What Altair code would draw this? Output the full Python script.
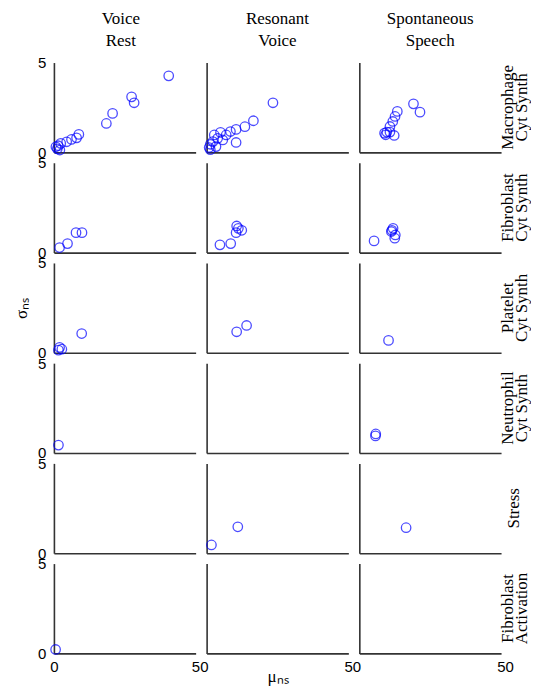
import altair as alt
import pandas as pd

SERIF = "Liberation Serif"
SANS = "Liberation Sans"

conditions = [["Voice", "Rest"], ["Resonant", "Voice"], ["Spontaneous", "Speech"]]
stimuli = [["Macrophage", "Cyt Synth"], ["Fibroblast", "Cyt Synth"], ["Platelet", "Cyt Synth"],
           ["Neutrophil", "Cyt Synth"], ["Stress"], ["Fibroblast", "Activation"]]

x_ticks = [0, 50]
y_ticks = [0, 5]

# Macrophage cytokine synthesis
mac_rest_mu = [40.5, 27.4, 28.3, 20.7, 18.5, 8.8, 8.0, 6.2, 4.5, 2.4, 1.5, 0.7, 2.1, 1.2]
mac_rest_sigma = [4.26, 3.09, 2.76, 2.17, 1.61, 1.0, 0.81, 0.72, 0.59, 0.5, 0.37, 0.31, 0.13, 0.2]
mac_res_mu = [23.4, 16.5, 13.5, 10.4, 8.4, 10.4, 6.9, 4.9, 3.9, 2.7, 2.2, 1.3, 3.3, 0.9, 1.3, 5.7]
mac_res_sigma = [2.76, 1.76, 1.43, 1.28, 1.16, 0.55, 0.97, 1.11, 0.78, 0.97, 0.6, 0.45, 0.32, 0.27, 0.15, 0.69]
mac_spon_mu = [19.1, 21.4, 13.4, 12.6, 11.8, 10.8, 9.7, 8.9, 9.3, 12.3, 10.8]
mac_spon_sigma = [2.7, 2.24, 2.28, 2.0, 1.72, 1.44, 1.13, 1.07, 0.98, 0.94, 1.13]

# Fibroblast cytokine synthesis
fib_rest_mu = [9.9, 7.8, 4.8, 2.0]
fib_rest_sigma = [1.11, 1.11, 0.5, 0.28]
fib_res_mu = [10.6, 12.4, 10.4, 11.2, 8.5, 4.7]
fib_res_sigma = [1.48, 1.24, 1.11, 1.35, 0.5, 0.43]
fib_spon_mu = [5.2, 11.9, 11.3, 12.7, 12.5, 11.5]
fib_spon_sigma = [0.65, 1.35, 1.17, 0.98, 0.8, 1.24]

# Platelet cytokine synthesis
pla_rest_mu = [9.8, 2.0, 2.8, 1.6]
pla_rest_sigma = [1.07, 0.3, 0.2, 0.15]
pla_res_mu = [10.6, 14.1]
pla_res_sigma = [1.17, 1.52]
pla_spon_mu = [10.3]
pla_spon_sigma = [0.69]

# Neutrophil cytokine synthesis
neu_rest_mu = [1.6]
neu_rest_sigma = [0.44]
neu_res_mu = []
neu_res_sigma = []
neu_spon_mu = [5.8, 5.7]
neu_spon_sigma = [1.06, 0.95]

# Stress
str_rest_mu = []
str_rest_sigma = []
str_res_mu = [11.0, 1.7]
str_res_sigma = [1.47, 0.46]
str_spon_mu = [16.5]
str_spon_sigma = [1.42]

# Fibroblast activation
act_rest_mu = [0.6]
act_rest_sigma = [0.22]
act_res_mu = []
act_res_sigma = []
act_spon_mu = []
act_spon_sigma = []

grid = [
    [(mac_rest_mu, mac_rest_sigma), (mac_res_mu, mac_res_sigma), (mac_spon_mu, mac_spon_sigma)],
    [(fib_rest_mu, fib_rest_sigma), (fib_res_mu, fib_res_sigma), (fib_spon_mu, fib_spon_sigma)],
    [(pla_rest_mu, pla_rest_sigma), (pla_res_mu, pla_res_sigma), (pla_spon_mu, pla_spon_sigma)],
    [(neu_rest_mu, neu_rest_sigma), (neu_res_mu, neu_res_sigma), (neu_spon_mu, neu_spon_sigma)],
    [(str_rest_mu, str_rest_sigma), (str_res_mu, str_res_sigma), (str_spon_mu, str_spon_sigma)],
    [(act_rest_mu, act_rest_sigma), (act_res_mu, act_res_sigma), (act_spon_mu, act_spon_sigma)],
]

W, H = 142, 90
NR = len(stimuli)


def row_label_layer(text, xpos):
    return alt.Chart(pd.DataFrame({"label": [text]})).mark_text(
        angle=270, font=SERIF, fontSize=17, align="center", baseline="middle", color="black"
    ).encode(x=alt.value(xpos), y=alt.value(H / 2), text="label:N")


def panel(r, c):
    mu, sig = grid[r][c]
    df = pd.DataFrame({"mu": pd.Series(mu, dtype=float), "sigma": pd.Series(sig, dtype=float)})
    bottom = r == NR - 1
    left = c == 0

    xaxis_kw = dict(values=x_ticks, labels=bottom, ticks=False, grid=False,
                    labelFlush=False, labelPadding=6)
    if bottom:
        xaxis_kw["labelOffset"] = {"condition": {"test": "datum.value == 50", "value": 4}, "value": 0}
    if bottom and c > 0:
        xaxis_kw["labelExpr"] = "datum.value == 0 ? '' : datum.label"
    if bottom and c == 1:
        xaxis_kw["title"] = "μₙₛ"
        xaxis_kw["titlePadding"] = -6
    else:
        xaxis_kw["title"] = None

    yaxis_kw = dict(values=y_ticks, labels=left, ticks=False, grid=False,
                    labelFlush=False, labelPadding=8)
    if left and r == 2:
        yaxis_kw["title"] = "σₙₛ"
        yaxis_kw["titlePadding"] = 7
    else:
        yaxis_kw["title"] = None

    pts = alt.Chart(df).mark_point(
        shape="circle", filled=False, size=90, strokeWidth=1.3, color="#0000ff", clip=False
    ).encode(
        x=alt.X("mu:Q", scale=alt.Scale(domain=[0, 50], nice=False, zero=False), axis=alt.Axis(**xaxis_kw)),
        y=alt.Y("sigma:Q", scale=alt.Scale(domain=[0, 5], nice=False, zero=False), axis=alt.Axis(**yaxis_kw)),
    )

    layers = [pts]
    if c == 2:
        lines = stimuli[r]
        if len(lines) == 1:
            layers.append(row_label_layer(lines[0], W + 13))
        else:
            layers.append(row_label_layer(lines[0], W + 7))
            layers.append(row_label_layer(lines[1], W + 21))

    props = dict(width=W, height=H)
    if r == 0:
        props["title"] = alt.TitleParams(
            conditions[c], font=SERIF, fontSize=17, fontWeight="normal", lineHeight=22,
            anchor="middle", frame="group", offset=6 if c == 0 else 13, color="black",
            dx=-4 if c == 0 else 0,
        )
    if len(layers) == 1:
        return pts.properties(**props)
    return alt.layer(*layers).properties(**props)


panels = [panel(r, c) for r in range(NR) for c in range(3)]

chart = alt.concat(
    *panels, columns=3, spacing={"row": 10.4, "column": 11}, bounds="flush"
).configure_axis(
    labelFont=SANS, labelFontSize=15, labelColor="black",
    titleFont=SERIF, titleFontSize=17, titleFontWeight="normal", titleColor="black",
    domainColor="#333333", domainWidth=1.6,
).configure_view(
    stroke="transparent"
).properties(
    padding={"left": 4, "top": 0, "right": 0, "bottom": 0}
)

chart.save("out.html", embed_options={"renderer": "svg", "actions": False})
